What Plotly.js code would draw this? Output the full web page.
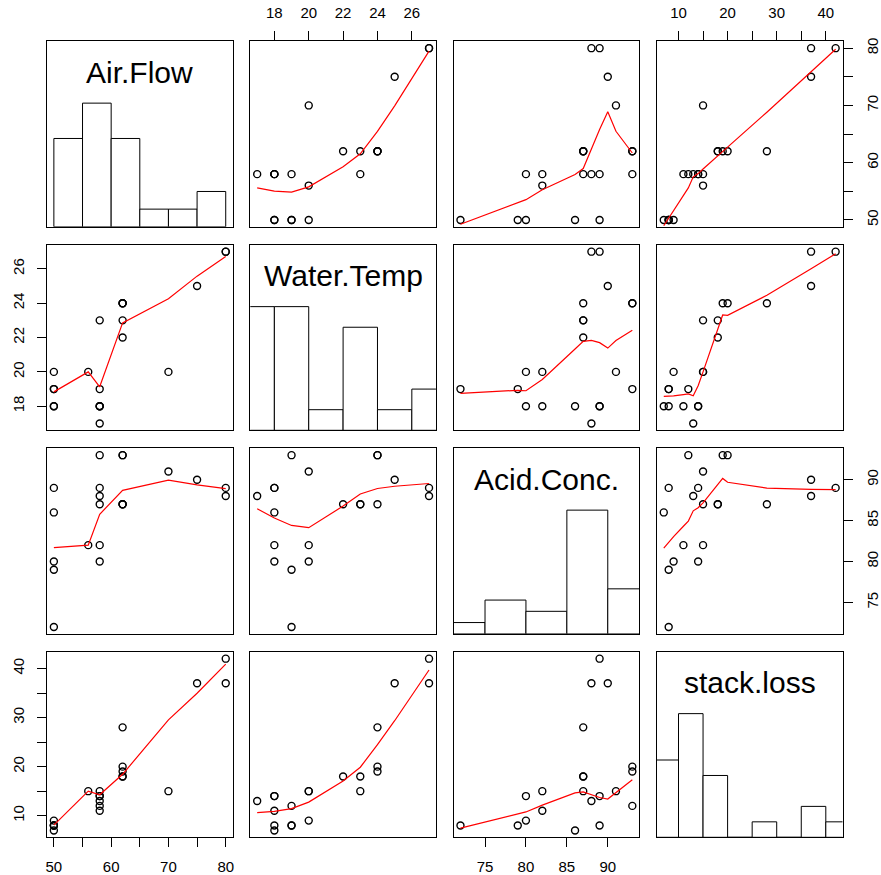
<!DOCTYPE html>
<html>
<head>
<meta charset="utf-8">
<script src="https://cdn.plot.ly/plotly-3.0.1.min.js"></script>
<style>html,body{margin:0;padding:0;background:#fff;}#chart{width:881px;height:875px;}</style>
</head>
<body>
<div id="chart"></div>
<script>
// ---- data (stackloss) ----
const varNames = ["Air.Flow", "Water.Temp", "Acid.Conc.", "stack.loss"];
const airFlow   = [80, 80, 75, 62, 62, 62, 62, 62, 58, 58, 58, 58, 58, 58, 50, 50, 50, 50, 50, 56, 70];
const waterTemp = [27, 27, 25, 24, 22, 23, 24, 24, 23, 18, 18, 17, 18, 19, 18, 18, 19, 19, 20, 20, 20];
const acidConc  = [89, 88, 90, 87, 87, 87, 93, 93, 87, 80, 89, 88, 82, 93, 89, 86, 72, 79, 80, 82, 91];
const stackLoss = [42, 37, 37, 28, 18, 18, 19, 20, 15, 14, 14, 13, 11, 12, 8, 7, 8, 8, 9, 15, 15];

// histogram breaks
const airBreaks   = [50, 55, 60, 65, 70, 75, 80];
const waterBreaks = [16, 18, 20, 22, 24, 26, 28];
const acidBreaks  = [70, 75, 80, 85, 90, 95];
const stackBreaks = [5, 10, 15, 20, 25, 30, 35, 40, 45];

// tick values / labels
const airTicks    = [50, 55, 60, 65, 70, 75, 80];
const airLabels   = ["50", "", "60", "", "70", "", "80"];
const waterTicks  = [18, 20, 22, 24, 26];
const waterLabels = ["18", "20", "22", "24", "26"];
const acidTicks   = [75, 80, 85, 90];
const acidLabels  = ["75", "80", "85", "90"];
const stackTicks  = [10, 15, 20, 25, 30, 35, 40];
const stackLabels = ["10", "", "20", "", "30", "", "40"];

const vars = [airFlow, waterTemp, acidConc, stackLoss];
const breaksList = [airBreaks, waterBreaks, acidBreaks, stackBreaks];
const tickVals = [airTicks, waterTicks, acidTicks, stackTicks];
const tickTexts = [airLabels, waterLabels, acidLabels, stackLabels];

// ---- R-style histogram counts (right-closed, include.lowest) ----
function histCounts(d, br) {
  const c = new Array(br.length - 1).fill(0);
  d.forEach(v => {
    for (let k = 0; k < br.length - 1; k++) {
      const lo = br[k], hi = br[k + 1];
      if ((v > lo || (k === 0 && v >= lo)) && v <= hi) { c[k]++; break; }
    }
  });
  return c;
}

// ---- R's lowess (clowess port) ----
function lowess(xIn, yIn, f, iter) {
  const n = xIn.length;
  const idx = xIn.map((v, i) => i).sort((a, b) => (xIn[a] - xIn[b]) || (a - b));
  const x = [0].concat(idx.map(i => xIn[i]));
  const y = [0].concat(idx.map(i => yIn[i]));
  const delta = 0.01 * (x[n] - x[1]);
  const ys = new Array(n + 1).fill(0), rw = new Array(n + 1).fill(0), res = new Array(n + 1).fill(0);
  const ns = Math.max(2, Math.min(n, Math.floor(f * n + 1e-7)));
  function lowest(xs, nleft, nright, userw) {
    const range = x[n] - x[1];
    const h = Math.max(xs - x[nleft], x[nright] - xs);
    const h9 = 0.999 * h, h1 = 0.001 * h;
    const w = res;
    let a = 0, j = nleft;
    while (j <= n) {
      w[j] = 0;
      const r = Math.abs(x[j] - xs);
      if (r <= h9) {
        w[j] = (r <= h1) ? 1 : Math.pow(1 - Math.pow(r / h, 3), 3);
        if (userw) w[j] *= rw[j];
        a += w[j];
      } else if (x[j] > xs) break;
      j++;
    }
    const nrt = j - 1;
    if (a <= 0) return null;
    for (j = nleft; j <= nrt; j++) w[j] /= a;
    if (h > 0) {
      a = 0;
      for (j = nleft; j <= nrt; j++) a += w[j] * x[j];
      let b = xs - a, c = 0;
      for (j = nleft; j <= nrt; j++) c += w[j] * (x[j] - a) * (x[j] - a);
      if (Math.sqrt(c) > 0.001 * range) {
        b /= c;
        for (j = nleft; j <= nrt; j++) w[j] *= (b * (x[j] - a) + 1);
      }
    }
    let s = 0;
    for (j = nleft; j <= nrt; j++) s += w[j] * y[j];
    return s;
  }
  let it = 1;
  while (it <= iter + 1) {
    let nleft = 1, nright = ns, last = 0, i = 1;
    for (;;) {
      if (nright < n) {
        const d1 = x[i] - x[nleft], d2 = x[nright + 1] - x[i];
        if (d1 > d2) { nleft++; nright++; continue; }
      }
      const v = lowest(x[i], nleft, nright, it > 1);
      ys[i] = (v === null) ? y[i] : v;
      if (last < i - 1) {
        const denom = x[i] - x[last];
        for (let j = last + 1; j < i; j++) {
          const alpha = (x[j] - x[last]) / denom;
          ys[j] = alpha * ys[i] + (1 - alpha) * ys[last];
        }
      }
      last = i;
      const cut = x[last] + delta;
      for (i = last + 1; i <= n; i++) {
        if (x[i] > cut) break;
        if (x[i] === x[last]) { ys[i] = ys[last]; last = i; }
      }
      i = Math.max(last + 1, i - 1);
      if (last >= n) break;
    }
    for (let k = 1; k <= n; k++) res[k] = y[k] - ys[k];
    let sc = 0;
    for (let k = 1; k <= n; k++) sc += Math.abs(res[k]);
    sc /= n;
    if (it > iter) break;
    const sorted = res.slice(1).map(Math.abs).sort((a, b) => a - b);
    const m1 = Math.floor(n / 2);
    const cmad = (n % 2 === 0) ? 3 * (sorted[m1] + sorted[n - m1 - 1]) : 6 * sorted[m1];
    if (cmad < 1e-7 * sc) break;
    const c9 = 0.999 * cmad, c1 = 0.001 * cmad;
    for (let k = 1; k <= n; k++) {
      const r = Math.abs(res[k]);
      rw[k] = (r <= c1) ? 1 : (r <= c9 ? Math.pow(1 - Math.pow(r / cmad, 2), 2) : 0);
    }
    it++;
  }
  return { x: x.slice(1), y: ys.slice(1) };
}

// ---- layout geometry ----
const W = 881, H = 875;
const left0 = 47, top0 = 41.3, pw = 185.6, ph = 185.5, stepX = 203.3, stepY = 203.5;
const font = "Liberation Sans, Arial, Helvetica, sans-serif";

function rng(d) {
  const mn = Math.min(...d), mx = Math.max(...d), r = mx - mn;
  return [mn - 0.04 * r, mx + 0.04 * r];
}

const traces = [];
const layout = {
  width: W, height: H,
  margin: { l: 0, r: 0, t: 0, b: 0, pad: 0 },
  paper_bgcolor: "white", plot_bgcolor: "white",
  showlegend: false,
  font: { family: font, size: 15, color: "black" },
  annotations: []
};

for (let i = 0; i < 4; i++) {
  for (let j = 0; j < 4; j++) {
    const k = i * 4 + j + 1;
    const xa = "xaxis" + k, ya = "yaxis" + k;
    const xr = "x" + k, yr = "y" + k;
    const xd = [(left0 + j * stepX) / W, (left0 + j * stepX + pw) / W];
    const yTop = top0 + i * stepY;
    const yd = [1 - (yTop + ph) / H, 1 - yTop / H];
    const base = {
      showgrid: false, zeroline: false, showline: true, mirror: true,
      linecolor: "black", linewidth: 1, ticks: "", showticklabels: false,
      fixedrange: true
    };
    const xax = Object.assign({}, base, { domain: xd, anchor: yr, range: rng(vars[j]) });
    const yax = Object.assign({}, base, { domain: yd, anchor: xr });
    if (i === j) yax.range = [0, 1.5]; else yax.range = rng(vars[i]);

    // outer axes (alternating like R pairs)
    const tickStyle = {
      ticks: "outside", ticklen: 9, tickwidth: 1, tickcolor: "black",
      showticklabels: true, tickmode: "array",
      tickfont: { family: font, size: 15, color: "black" },
      ticklabelstandoff: 7
    };
    if (i === 0 && (j === 1 || j === 3)) {
      Object.assign(xax, tickStyle, { side: "top", tickvals: tickVals[j], ticktext: tickTexts[j] });
    }
    if (i === 3 && (j === 0 || j === 2)) {
      Object.assign(xax, tickStyle, { side: "bottom", tickvals: tickVals[j], ticktext: tickTexts[j] });
    }
    if (j === 0 && (i === 1 || i === 3)) {
      Object.assign(yax, tickStyle, { side: "left", tickangle: -90, tickvals: tickVals[i], ticktext: tickTexts[i] });
    }
    if (j === 3 && (i === 0 || i === 2)) {
      Object.assign(yax, tickStyle, { side: "right", tickangle: -90, tickvals: tickVals[i], ticktext: tickTexts[i] });
    }
    layout[xa] = xax;
    layout[ya] = yax;

    if (i === j) {
      const br = breaksList[j];
      const cnt = histCounts(vars[j], br);
      const mx = Math.max(...cnt);
      traces.push({
        type: "bar", xaxis: xr, yaxis: yr,
        x: cnt.map((c, b) => (br[b] + br[b + 1]) / 2),
        y: cnt.map(c => c / mx),
        width: cnt.map((c, b) => br[b + 1] - br[b]),
        marker: { color: "white", line: { color: "black", width: 1 } },
        hoverinfo: "skip"
      });
      const r = rng(vars[j]);
      layout.annotations.push({
        xref: xr, yref: yr, x: (r[0] + r[1]) / 2, y: 1.25,
        text: varNames[j], showarrow: false,
        xanchor: "center", yanchor: "middle",
        font: { family: font, size: 30, color: "black" }
      });
    } else {
      traces.push({
        type: "scatter", mode: "markers", xaxis: xr, yaxis: yr,
        x: vars[j], y: vars[i],
        marker: { symbol: "circle-open", size: 7, color: "black", line: { color: "black", width: 1.4 } },
        hoverinfo: "skip"
      });
      const lw = lowess(vars[j], vars[i], 2 / 3, 3);
      traces.push({
        type: "scatter", mode: "lines", xaxis: xr, yaxis: yr,
        x: lw.x, y: lw.y,
        line: { color: "#FF0000", width: 1.2 },
        hoverinfo: "skip"
      });
    }
  }
}

Plotly.newPlot("chart", traces, layout, { displayModeBar: false, staticPlot: true });
</script>
</body>
</html>
